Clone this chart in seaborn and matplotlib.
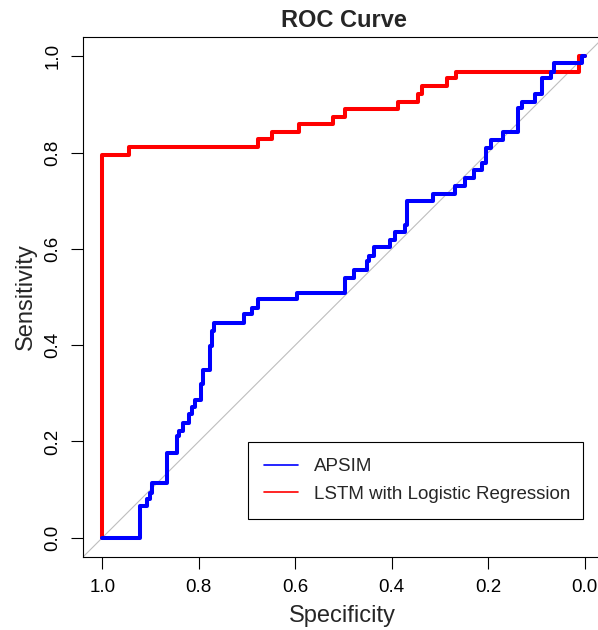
import matplotlib
matplotlib.use("Agg")
import matplotlib.pyplot as plt
from matplotlib.lines import Line2D
import seaborn as sns
import pandas as pd

# ROC corner points (specificity, sensitivity)
apsim_spec = [1.0, 0.921, 0.907, 0.902, 0.896, 0.866, 0.846, 0.840, 0.832, 0.821,
              0.814, 0.807, 0.796, 0.792, 0.776, 0.773, 0.768, 0.707, 0.690, 0.678,
              0.597, 0.497, 0.478, 0.452, 0.447, 0.436, 0.404, 0.393, 0.373, 0.368,
              0.314, 0.269, 0.248, 0.230, 0.212, 0.204, 0.195, 0.169, 0.138, 0.131,
              0.104, 0.088, 0.069, 0.064, 0.005, 0.0]
apsim_sens = [0.0, 0.065, 0.081, 0.093, 0.113, 0.175, 0.211, 0.222, 0.239, 0.257,
              0.272, 0.286, 0.319, 0.349, 0.398, 0.429, 0.447, 0.464, 0.478, 0.495,
              0.509, 0.540, 0.557, 0.574, 0.586, 0.603, 0.619, 0.636, 0.650, 0.700,
              0.713, 0.731, 0.748, 0.764, 0.778, 0.809, 0.826, 0.842, 0.892, 0.904,
              0.921, 0.954, 0.968, 0.985, 1.0, 1.0]

lstm_spec = [1.0, 1.0, 0.944, 0.678, 0.648, 0.592, 0.522, 0.497, 0.387, 0.346,
             0.338, 0.286, 0.267, 0.012, 0.0]
lstm_sens = [0.0, 0.795, 0.811, 0.828, 0.843, 0.859, 0.874, 0.891, 0.905, 0.921,
             0.939, 0.954, 0.968, 1.0, 1.0]

series_names = ["APSIM", "LSTM with Logistic Regression"]
series_colors = ["#0000FF", "#FF0000"]
tick_values = [1.0, 0.8, 0.6, 0.4, 0.2, 0.0]
tick_labels = ["1.0", "0.8", "0.6", "0.4", "0.2", "0.0"]

sns.set_style("ticks")
plt.rcParams["font.family"] = ["Liberation Sans", "DejaVu Sans"]

W, H = 598, 630
fig = plt.figure(figsize=(W / 100, H / 100), dpi=100)
ax = fig.add_axes([83 / W, (H - 557) / H, 521 / W, 520 / H])

df_apsim = pd.DataFrame({"spec": apsim_spec, "sens": apsim_sens})
df_lstm = pd.DataFrame({"spec": lstm_spec, "sens": lstm_sens})

ax.axline((1, 0), (0, 1), color="#BEBEBE", lw=0.8, zorder=1)
sns.lineplot(data=df_lstm, x="spec", y="sens", sort=False, estimator=None,
             color=series_colors[1], lw=2.9, drawstyle="steps-post", ax=ax,
             legend=False, zorder=2)
sns.lineplot(data=df_apsim, x="spec", y="sens", sort=False, estimator=None,
             color=series_colors[0], lw=2.9, drawstyle="steps-post", ax=ax,
             legend=False, zorder=3)

ax.set_xlim(1.04, -0.04)
ax.set_ylim(-0.04, 1.04)
ax.set_xticks(tick_values)
ax.set_xticklabels(tick_labels)
ax.set_yticks(tick_values)
ax.set_yticklabels(tick_labels, rotation=90, va="center")
ax.tick_params(axis="both", length=8.5, width=0.8, pad=7, labelsize=13.5,
               colors="black", direction="out")
for s in ax.spines.values():
    s.set_visible(True)
    s.set_color("black")
    s.set_linewidth(0.8)

ax.set_xlabel("Specificity", fontsize=17)
ax.set_ylabel("Sensitivity", fontsize=17)
ax.xaxis.set_label_coords(0.497, -0.092)
ax.yaxis.set_label_coords(-0.088, 0.5)
ax.set_title("ROC Curve", fontsize=17, fontweight="bold", pad=7)

handles = [Line2D([0], [0], color=c, lw=1.2) for c in series_colors]
leg = ax.legend(handles, series_names, loc="upper left",
                bbox_to_anchor=(165 / 521, 0.0, 335 / 521, 115 / 520),
                mode="expand", borderaxespad=0, fontsize=13.5,
                handlelength=1.8, handletextpad=0.85, labelspacing=0.56,
                borderpad=0.85, frameon=True, fancybox=False, framealpha=1)
leg.get_frame().set_edgecolor("black")
leg.get_frame().set_linewidth(0.8)

fig.savefig("out.png", dpi=100, facecolor="white")
